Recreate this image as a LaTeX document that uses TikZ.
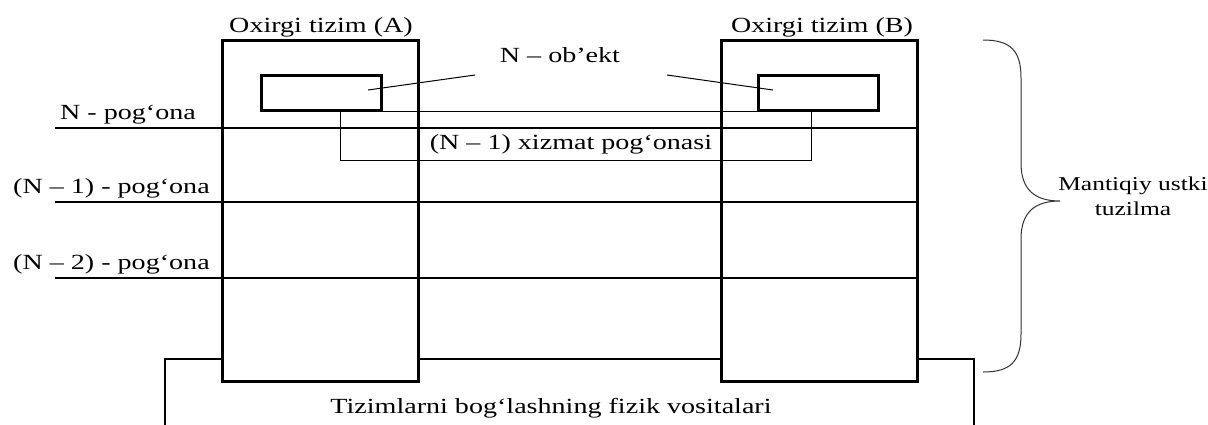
\documentclass[tikz,border=0pt]{standalone}
\usepackage{fontspec}
\setmainfont{Liberation Serif}[FakeStretch=1.3]

\begin{document}
\begin{tikzpicture}[x=0.5pt,y=-0.5pt,
  sysline/.style={line width=1.5pt},
  layerline/.style={line width=1pt},
  thinline/.style={line width=0.5pt},
  objbox/.style={draw,line width=1.5pt,minimum width=60pt,minimum height=17.5pt,inner sep=0pt},
  lbl/.style={font=\fontsize{10.8}{12.5}\selectfont,inner sep=0pt,anchor=base}]

\useasboundingbox (0,0) rectangle (1208,424);

% Draw the layer boundaries
\draw [layerline] (55,128) -- (917,128);
\draw [layerline] (55,202) -- (917,202);
\draw [layerline] (55,278) -- (917,278);

% Draw the physical medium under both systems
\draw [layerline] (165,430) -- (165,359) -- (222,359);
\draw [layerline] (418,359) -- (721,359);
\draw [layerline] (917,359) -- (974,359) -- (974,430);

% Draw the two end systems
\draw [sysline] (222,40) rectangle (418,381);
\draw [sysline] (721,40) rectangle (917,381);

% Draw the N-objects and the service path between them
\node [objbox] (objA) at (321,92.5) {};
\node [objbox] (objB) at (818,92.5) {};
\draw [thinline] (objA.south east) -- (objB.south west);
\draw [thinline] ([xshift=9.5pt]objA.south) |- ([xshift=-3.5pt,yshift=-24.5pt]objB.south) -- ([xshift=-3.5pt]objB.south);

% Labels
\node [lbl] (titleA) at (321,32) {Oxirgi tizim (A)};
\node [lbl] (titleB) at (822,32) {Oxirgi tizim (B)};
\node [lbl] (objlbl) at (560,62) {N – ob’ekt};
\node [lbl] (svclbl) at (571,149) {(N – 1) xizmat pog‘onasi};
\node [lbl] (layN) at (128,119) {N - pog‘ona};
\node [lbl] (layN1) at (111.5,193) {(N – 1) - pog‘ona};
\node [lbl] (layN2) at (111.5,269) {(N – 2) - pog‘ona};
\node [lbl] (phys) at (551,413) {Tizimlarni bog‘lashning fizik vositalari};

% Draw the pointers from the object label
\coordinate (ptrA) at (475,75);
\coordinate (ptrB) at (667,75);
\draw [thinline] (ptrA) -- ([shift={(23.5pt,1.25pt)}]objA.center);
\draw [thinline] (ptrB) -- ([shift={(-22.5pt,1.25pt)}]objB.center);

% Draw the brace over the logical layers
\coordinate (brTip) at (1060,201);
\draw [thinline, black!80] (983,40) .. controls (1010,40) and (1021,50) .. (1021,78)
  -- (1021,163) .. controls (1021,190) and (1035,201) .. (brTip)
  .. controls (1035,201) and (1021,212) .. (1021,239)
  -- (1021,334) .. controls (1021,362) and (1010,372) .. (983,372);
\node [font=\fontsize{9.8}{12.5}\selectfont, align=center, inner sep=0pt] (logic) at (1133,196) {Mantiqiy ustki\\tuzilma};

\end{tikzpicture}
\end{document}
